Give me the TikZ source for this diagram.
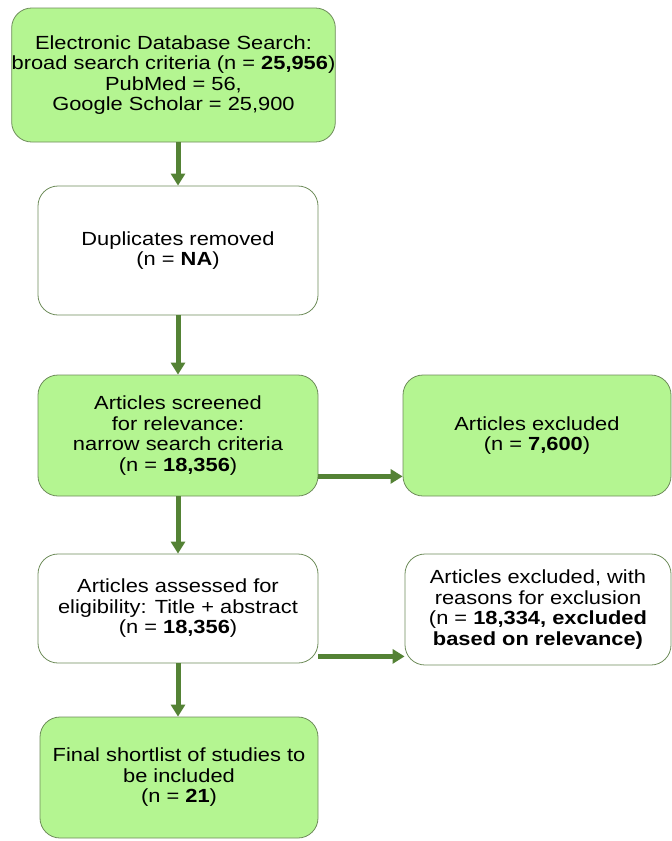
\documentclass[tikz,border=0pt]{standalone}
\usepackage{fontspec}
\setmainfont{Liberation Sans}[FakeStretch=1.15]
\usepackage{tikz}
\usetikzlibrary{arrows.meta, positioning}
\definecolor{boxgreen}{RGB}{180,245,145}
\definecolor{edgegreen}{RGB}{110,140,90}
\definecolor{arrowgreen}{RGB}{84,130,53}

\begin{document}
\begin{tikzpicture}[x=1pt,y=-1pt,
        stage/.style={draw=edgegreen, line width=0.8pt, rounded corners=20pt, align=center, inner sep=0pt, font=\fontsize{19}{20.5}\selectfont},
        filled/.style={stage, fill=boxgreen},
        plain/.style={stage, fill=white},
        flow/.style={arrowgreen, line width=5pt, -{Triangle[width=14pt,length=12pt]}}]
    \useasboundingbox (0,0) rectangle (672,841);
    % left column
    \node[filled, minimum width=319pt, minimum height=134pt] (search) at (173.5,75) {Electronic Database Search:\\broad search criteria (n = \textbf{25,956})\\PubMed = 56,\\Google Scholar = 25,900};
    \node[plain, minimum width=280pt, minimum height=129pt] (dup) at (178,250.5) {Duplicates removed\\(n = \textbf{NA})};
    \node[filled, minimum width=280pt, minimum height=121pt] (screen) at (178,435.5) {Articles screened\\for relevance:\\narrow search criteria\\(n = \textbf{18,356})};
    \node[plain, minimum width=280pt, minimum height=109pt] (elig) at (178,608.5) {Articles assessed for\\eligibility: Title + abstract\\(n = \textbf{18,356})};
    \node[filled, minimum width=278pt, minimum height=121pt] (final) at (179,777.5) {Final shortlist of studies to\\be included\\(n = \textbf{21})};
    % right column
    \node[filled, minimum width=268pt, minimum height=121pt] (excl) at (537,435.5) {Articles excluded\\(n = \textbf{7,600})};
    \node[plain, minimum width=266pt, minimum height=111pt] (reason) at (538,609.5) {Articles excluded, with\\reasons for exclusion\\(n = \textbf{18,334, excluded}\\\textbf{based on relevance)}};
    % arrows
    \draw[flow] (dup.north |- search.south) -- (dup.north);
    \draw[flow] (dup) -- (screen);
    \draw[flow] (screen) -- (elig);
    \draw[flow] (elig.south) -- (elig.south |- final.north);
    \draw[flow] ([yshift=20pt]screen.south east) -- ([yshift=20pt]screen.south east -| excl.west);
    \draw[flow] ([yshift=7pt]elig.south east) -- ([yshift=7pt]elig.south east -| reason.west);
\end{tikzpicture}
\end{document}
